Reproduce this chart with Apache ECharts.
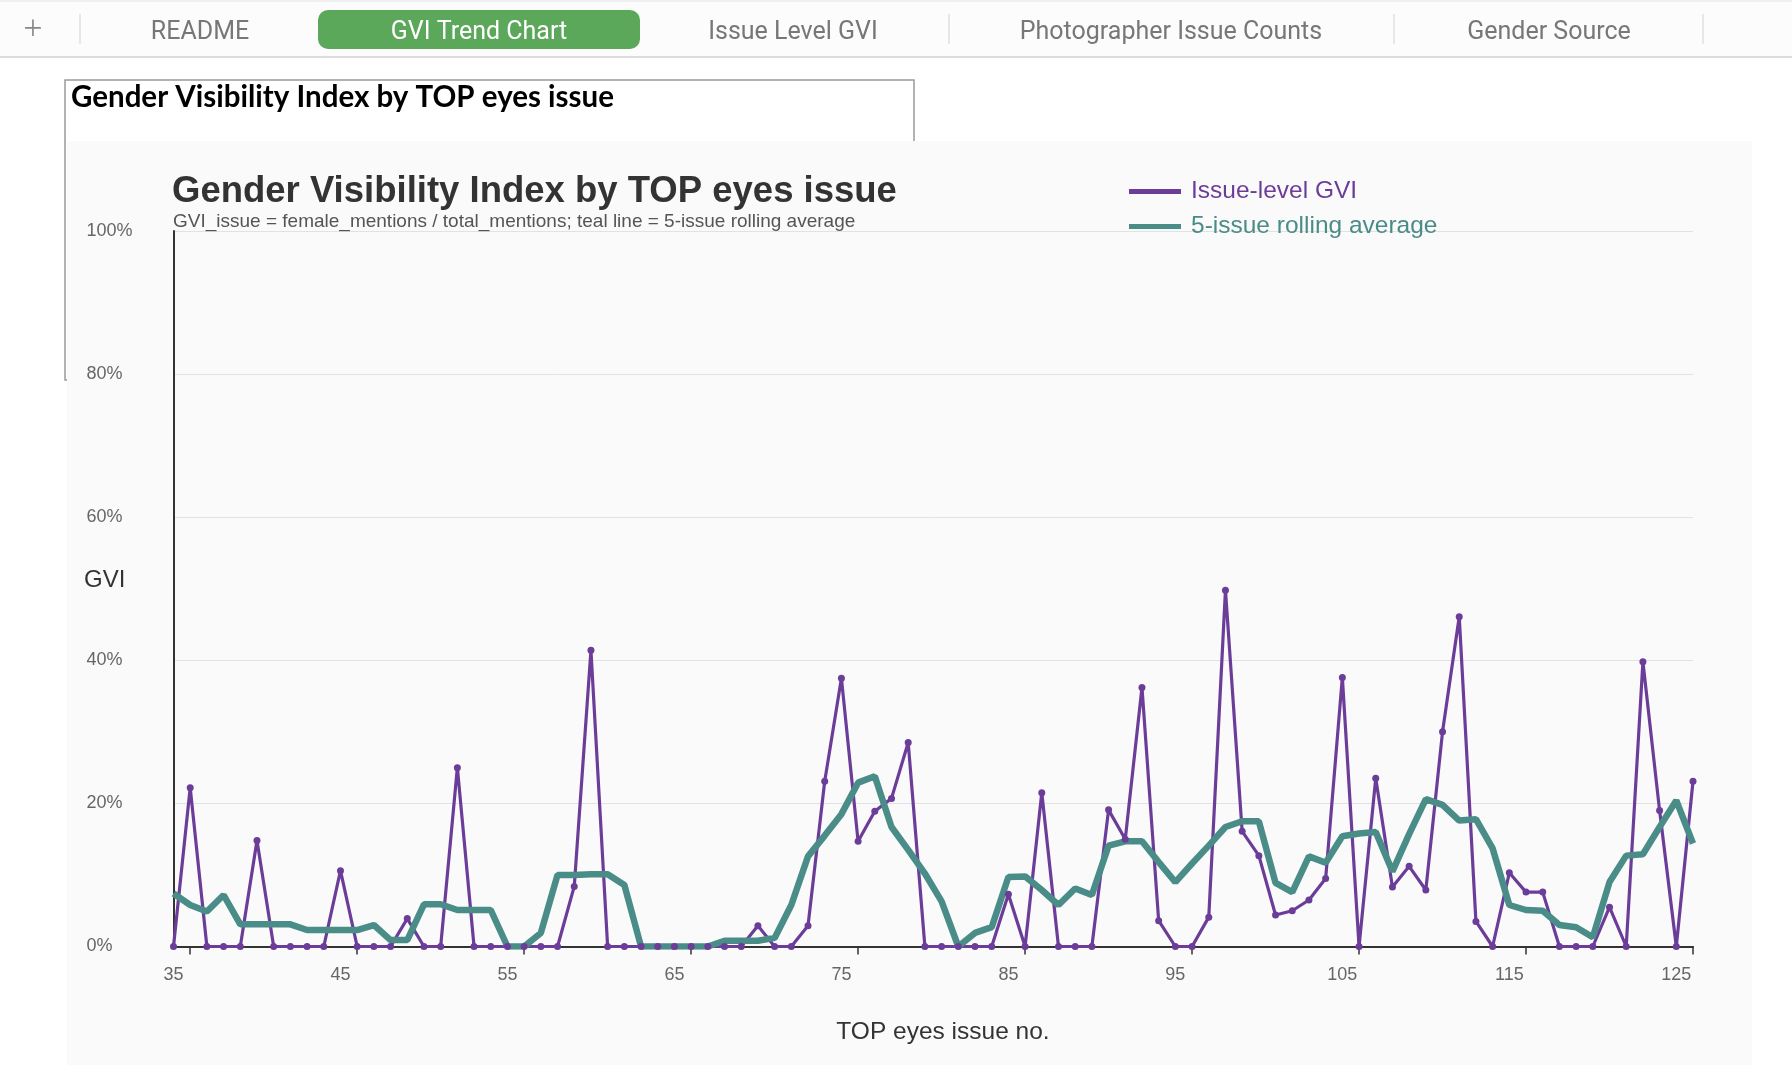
<!DOCTYPE html>
<html>
<head>
<meta charset="utf-8">
<title>Gender Visibility Index by TOP eyes issue</title>
<script src="https://cdn.jsdelivr.net/npm/echarts@6/dist/echarts.min.js"></script>
<style>
  html, body { margin: 0; padding: 0; background: #fff; }
  #main { width: 1792px; height: 1084px; }
</style>
</head>
<body>
<div id="main"></div>
<script>
// TOP eyes issue numbers (35 .. 126)
var issues = [
  35, 36, 37, 38, 39, 40, 41, 42, 43, 44,
  45, 46, 47, 48, 49, 50, 51, 52, 53, 54,
  55, 56, 57, 58, 59, 60, 61, 62, 63, 64,
  65, 66, 67, 68, 69, 70, 71, 72, 73, 74,
  75, 76, 77, 78, 79, 80, 81, 82, 83, 84,
  85, 86, 87, 88, 89, 90, 91, 92, 93, 94,
  95, 96, 97, 98, 99, 100, 101, 102, 103, 104,
  105, 106, 107, 108, 109, 110, 111, 112, 113, 114,
  115, 116, 117, 118, 119, 120, 121, 122, 123, 124,
  125, 126
];

// issue-level GVI, in %
var issueGvi = [
  0, 22.2, 0, 0, 0, 14.8, 0, 0, 0, 0,
  10.6, 0, 0, 0, 3.9, 0, 0, 25.0, 0, 0,
  0, 0, 0, 0, 8.4, 41.4, 0, 0, 0, 0,
  0, 0, 0, 0, 0, 2.9, 0, 0, 2.9, 23.1,
  37.5, 14.7, 18.9, 20.7, 28.5, 0, 0, 0, 0, 0,
  7.3, 0, 21.5, 0, 0, 0, 19.1, 15.0, 36.2, 3.6,
  0, 0, 4.1, 49.8, 16.1, 12.7, 4.4, 5.0, 6.5, 9.5,
  37.6, 0, 23.5, 8.3, 11.2, 7.9, 30.0, 46.1, 3.5, 0,
  10.3, 7.6, 7.6, 0, 0, 0, 5.5, 0, 39.8, 19.0,
  0, 23.1
];

// 5-issue rolling average, in %
var rollingAvg = [
  7.4, 5.8, 4.9, 7.2, 3.1, 3.1, 3.1, 3.1, 2.3, 2.3,
  2.3, 2.3, 3.0, 0.9, 0.9, 5.9, 5.9, 5.1, 5.1, 5.1,
  0, 0, 1.9, 10.0, 10.0, 10.1, 10.1, 8.6, 0, 0,
  0, 0, 0, 0.8, 0.8, 0.8, 1.2, 5.8, 12.6, 15.5,
  18.5, 22.9, 23.8, 16.7, 13.5, 10.2, 6.3, 0, 1.9, 2.7,
  9.7, 9.8, 7.9, 5.8, 8.1, 7.2, 14.1, 14.7, 14.7, 11.8,
  9.0, 11.6, 14.1, 16.7, 17.5, 17.5, 8.9, 7.6, 12.6, 11.7,
  15.4, 15.8, 16.0, 10.5, 15.7, 20.6, 19.8, 17.6, 17.8, 13.7,
  5.8, 5.1, 5.0, 3.0, 2.7, 1.3, 9.0, 12.7, 12.9, 16.7,
  20.4, 14.4
];

var tabNames = ['README', 'GVI Trend Chart', 'Issue Level GVI', 'Photographer Issue Counts', 'Gender Source'];

var purple = '#6b3d99';
var teal = '#4a8c87';
var sans = '"Liberation Sans", Arial, sans-serif';

// sheet tabs + frame, drawn behind the chart
var tabX = [200, 479, 793, 1171, 1549];
var graphics = [
  { type: 'rect', z: -10, shape: { x: 0, y: 0, width: 1792, height: 57 }, style: { fill: '#fcfcfc' } },
  { type: 'line', z: -9, shape: { x1: 0, y1: 57, x2: 1792, y2: 57 }, style: { stroke: '#dcdcdc', lineWidth: 2 } },
  { type: 'line', z: -9, shape: { x1: 0, y1: 1, x2: 1792, y2: 1 }, style: { stroke: '#e4e4e4', lineWidth: 1 } },
  { type: 'text', z: -8, style: { text: '+', x: 33, y: 30, fill: '#888', font: '300 34px "Noto Sans", sans-serif', textAlign: 'center', textVerticalAlign: 'middle' } },
  { type: 'rect', z: -8, shape: { x: 318, y: 10, width: 322, height: 39, r: 10 }, style: { fill: '#5ca85b' } }
];
[80, 949, 1394, 1703].forEach(function (x) {
  graphics.push({ type: 'line', z: -8, shape: { x1: x, y1: 14, x2: x, y2: 44 }, style: { stroke: '#e0e0e0', lineWidth: 1.5 } });
});
tabNames.forEach(function (name, i) {
  graphics.push({
    type: 'text', z: -7,
    style: {
      text: name, x: tabX[i], y: 32.5,
      fill: i === 1 ? '#fff' : '#777',
      font: '25px Roboto, "Noto Sans", sans-serif',
      textAlign: 'center', textVerticalAlign: 'middle'
    }
  });
});
graphics.push(
  { type: 'rect', z: -9, shape: { x: 65, y: 80, width: 849, height: 300 }, style: { fill: '#fff', stroke: '#9a9a9a', lineWidth: 1.5 } },
  { type: 'text', z: -8, style: { text: 'Gender Visibility Index by TOP eyes issue', x: 71, y: 97, fill: '#000', font: 'bold 29.5px Lato, "Noto Sans", sans-serif', textVerticalAlign: 'middle' } },
  { type: 'rect', z: -7, shape: { x: 67, y: 141, width: 1685, height: 924 }, style: { fill: '#fafafa' } },
  { type: 'text', z: 5, style: { text: 'GVI_issue = female_mentions / total_mentions; teal line = 5-issue rolling average', x: 173, y: 221.5, fill: '#555', font: '19px ' + sans, textVerticalAlign: 'middle' } },
  { type: 'text', z: 5, style: { text: 'GVI', x: 84, y: 580, fill: '#333', font: '24px ' + sans, textVerticalAlign: 'middle' } },
  { type: 'text', z: 5, style: { text: 'TOP eyes issue no.', x: 943, y: 1032, fill: '#333', font: '24.5px ' + sans, textAlign: 'center', textVerticalAlign: 'middle' } }
);

var chart = echarts.init(document.getElementById('main'));
var option = {
  animation: false,
  backgroundColor: 'transparent',
  title: {
    text: 'Gender Visibility Index by TOP eyes issue',
    left: 172,
    top: 173.5,
    padding: 0,
    textStyle: { fontFamily: sans, fontWeight: 'bold', fontSize: 36.5, color: '#333' }
  },
  legend: {
    orient: 'vertical',
    left: 1129,
    top: 179,
    itemGap: 10,
    itemWidth: 52,
    itemHeight: 5,
    icon: 'rect',
    padding: 0,
    textStyle: { fontFamily: sans, fontSize: 24.5, padding: [0, 0, 0, 5] },
    data: [
      { name: 'Issue-level GVI', textStyle: { color: purple } },
      { name: '5-issue rolling average', textStyle: { color: teal } }
    ]
  },
  graphic: graphics,
  grid: {
    left: 173.5,
    right: 99,
    top: 231,
    bottom: 137.5,
    containLabel: false,
    outerBoundsMode: 'none'
  },
  xAxis: {
    type: 'category',
    boundaryGap: false,
    data: issues.map(String),
    axisLine: { lineStyle: { color: '#333', width: 2 } },
    axisTick: {
      show: true,
      length: 8,
      interval: function (idx, val) { return Number(val) % 10 === 6; },
      lineStyle: { color: '#333', width: 1.5 }
    },
    axisLabel: {
      interval: function (idx, val) { return Number(val) % 10 === 5; },
      color: '#666',
      fontFamily: sans,
      fontSize: 18,
      margin: 20
    },
    splitLine: { show: false }
  },
  yAxis: {
    type: 'value',
    min: 0,
    max: 100,
    interval: 20,
    axisLine: { show: true, lineStyle: { color: '#333', width: 2 } },
    axisTick: { show: false },
    axisLabel: {
      formatter: '{value}%',
      color: '#666',
      fontFamily: sans,
      fontSize: 18,
      align: 'left',
      margin: 87
    },
    splitLine: { lineStyle: { color: '#e2e2e2', width: 1 } }
  },
  series: [
    {
      name: 'Issue-level GVI',
      type: 'line',
      data: issueGvi,
      symbol: 'circle',
      symbolSize: 7,
      showAllSymbol: true,
      lineStyle: { color: purple, width: 3.2 },
      itemStyle: { color: purple }
    },
    {
      name: '5-issue rolling average',
      type: 'line',
      data: rollingAvg,
      symbol: 'none',
      lineStyle: { color: teal, width: 6.5 },
      itemStyle: { color: teal }
    }
  ]
};
chart.setOption(option);
</script>
</body>
</html>
